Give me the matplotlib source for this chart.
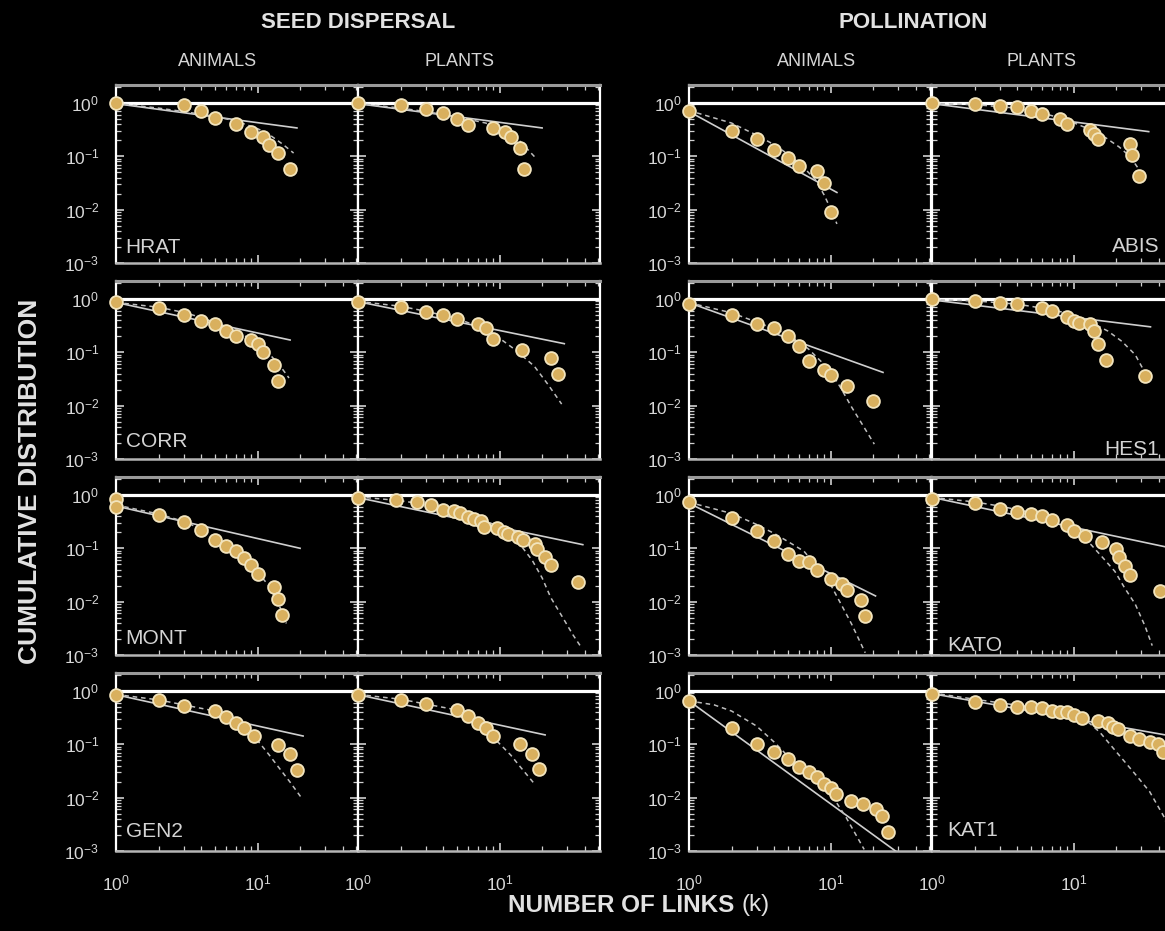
import numpy as np
import matplotlib
matplotlib.use("Agg")
import matplotlib.pyplot as plt
from matplotlib.ticker import LogLocator, NullFormatter

plt.rcParams['font.family'] = ['Liberation Sans', 'DejaVu Sans']
plt.rcParams['mathtext.default'] = 'regular'

# ---- cumulative degree distributions P(k) ----
# seed dispersal networks
hrat_anim_k = [1, 3, 4, 5, 7, 9, 11, 12, 14, 17]
hrat_anim_p = [1.0, 0.92, 0.72, 0.53, 0.40, 0.29, 0.23, 0.166, 0.116, 0.058]
hrat_plant_k = [1, 2, 3, 4, 5, 6, 9, 11, 12, 14, 15]
hrat_plant_p = [1.0, 0.92, 0.77, 0.64, 0.50, 0.39, 0.34, 0.28, 0.23, 0.143, 0.058]

corr_anim_k = [1, 2, 3, 4, 5, 6, 7, 9, 10, 11, 13, 14]
corr_anim_p = [0.86, 0.68, 0.50, 0.39, 0.34, 0.25, 0.20, 0.17, 0.145, 0.10, 0.058, 0.029]
corr_plant_k = [1, 2, 3, 4, 5, 7, 8, 9, 14.5, 23, 26]
corr_plant_p = [0.89, 0.72, 0.57, 0.49, 0.42, 0.34, 0.29, 0.18, 0.112, 0.078, 0.040]

mont_anim_k = [1, 1, 2, 3, 4, 5, 6, 7, 8, 9, 10, 13, 14, 15]
mont_anim_p = [0.85, 0.60, 0.42, 0.31, 0.22, 0.143, 0.111, 0.09, 0.065, 0.048, 0.033, 0.019, 0.011, 0.0056]
mont_plant_k = [1, 1.85, 2.6, 3.3, 4, 4.8, 5.3, 6, 6.6, 7.4, 7.8, 9.6, 10.8, 11.4, 13.6, 14.6,
                17.9, 18.4, 21, 23, 36]
mont_plant_p = [0.89, 0.81, 0.74, 0.65, 0.52, 0.49, 0.45, 0.38, 0.35, 0.33, 0.25, 0.24, 0.20, 0.185,
                0.165, 0.143, 0.12, 0.096, 0.07, 0.048, 0.023]

gen2_anim_k = [1, 2, 3, 5, 6, 7, 8, 9.5, 14, 17, 19]
gen2_anim_p = [0.85, 0.67, 0.53, 0.42, 0.33, 0.25, 0.20, 0.143, 0.097, 0.066, 0.033]
gen2_plant_k = [1, 2, 3, 5, 6, 7, 8, 9, 14, 17, 19]
gen2_plant_p = [0.85, 0.69, 0.56, 0.44, 0.34, 0.25, 0.20, 0.145, 0.10, 0.066, 0.034]

# pollination networks
abis_anim_k = [1, 2, 3, 4, 5, 6, 8, 9, 10]
abis_anim_p = [0.72, 0.30, 0.21, 0.133, 0.092, 0.066, 0.052, 0.031, 0.0089]
abis_plant_k = [1, 2, 3, 4, 5, 6, 8, 9, 13, 14, 15, 25, 26, 29]
abis_plant_p = [1.0, 0.95, 0.89, 0.85, 0.72, 0.62, 0.50, 0.40, 0.31, 0.26, 0.21, 0.167, 0.105, 0.042]

hes1_anim_k = [1, 2, 3, 4, 5, 6, 7, 9, 10, 13, 20]
hes1_anim_p = [0.81, 0.50, 0.345, 0.28, 0.20, 0.129, 0.069, 0.047, 0.038, 0.023, 0.012]
hes1_plant_k = [1, 2, 3, 4, 6, 7, 9, 10, 11, 13, 14, 15, 17, 32]
hes1_plant_p = [1.0, 0.93, 0.83, 0.80, 0.67, 0.60, 0.46, 0.39, 0.36, 0.34, 0.25, 0.145, 0.072, 0.036]

kato_anim_k = [1, 2, 3, 4, 5, 6, 7, 8, 10, 12, 13, 16.5, 17.5]
kato_anim_p = [0.73, 0.37, 0.214, 0.135, 0.078, 0.057, 0.055, 0.039, 0.027, 0.0216, 0.0163, 0.0109, 0.0054]
kato_plant_k = [1, 2, 3, 4, 5, 6, 7, 9, 10, 12, 16, 20, 21, 23, 25, 41]
kato_plant_p = [0.84, 0.70, 0.54, 0.47, 0.435, 0.41, 0.34, 0.276, 0.214, 0.172, 0.129, 0.099, 0.068,
                0.046, 0.031, 0.0158]

kat1_anim_k = [1, 2, 3, 4, 5, 6, 7, 8, 9, 10, 11, 14, 17, 21, 23, 25.5]
kat1_anim_p = [0.635, 0.20, 0.103, 0.072, 0.053, 0.038, 0.030, 0.024, 0.018, 0.0153, 0.0119, 0.0087,
               0.0075, 0.0061, 0.0045, 0.00225]
kat1_plant_k = [1, 2, 3, 4, 5, 6, 7, 8, 9, 10, 11.4, 14.9, 17.5, 19, 20.6, 24.9, 29, 34.5, 39.4, 42.8]
kat1_plant_p = [0.89, 0.62, 0.54, 0.50, 0.49, 0.47, 0.42, 0.41, 0.395, 0.35, 0.31, 0.27, 0.25, 0.21,
                0.19, 0.145, 0.126, 0.109, 0.10, 0.073]

# ---- fitted curves: power law (solid) and truncated power law (dashed) ----
hrat_anim_pl = ([1, 19], [0.97, 0.34])
hrat_anim_tp = ([1, 2, 3, 5, 7, 10, 12, 15, 18], [0.98, 0.80, 0.69, 0.56, 0.46, 0.33, 0.26, 0.17, 0.115])
hrat_plant_pl = ([1, 20], [0.97, 0.34])
hrat_plant_tp = ([1, 2, 3, 5, 8, 11, 14, 17.7], [0.98, 0.80, 0.69, 0.55, 0.42, 0.30, 0.19, 0.098])

corr_anim_pl = ([1, 17], [0.86, 0.17])
corr_anim_tp = ([1, 2, 3, 4, 6, 8, 10, 12, 14, 16.7],
                [0.86, 0.70, 0.56, 0.45, 0.30, 0.21, 0.145, 0.095, 0.062, 0.033])
corr_plant_pl = ([1, 28.7], [0.89, 0.145])
corr_plant_tp = ([1, 2, 3, 5, 8, 10.4, 13, 17.6, 22, 27.5],
                 [0.90, 0.73, 0.59, 0.43, 0.27, 0.17, 0.11, 0.055, 0.025, 0.0107])

mont_anim_pl = ([1, 20], [0.62, 0.10])
mont_anim_tp = ([1, 2, 3, 4, 5, 6, 8, 10, 12, 14, 16],
                [0.65, 0.44, 0.32, 0.23, 0.16, 0.12, 0.066, 0.036, 0.02, 0.0095, 0.0039])
mont_plant_pl = ([1, 38.8], [0.89, 0.117])
mont_plant_tp = ([1, 2, 3, 5, 7, 10, 13.6, 17, 20, 23, 28.7, 33, 37.5],
                 [0.92, 0.78, 0.66, 0.50, 0.38, 0.25, 0.13, 0.06, 0.028, 0.012, 0.0045, 0.0024, 0.00144])

gen2_anim_pl = ([1, 21], [0.85, 0.143])
gen2_anim_tp = ([1, 2, 3, 5, 6, 7, 8, 9.6, 12, 14, 17, 20.3],
                [0.86, 0.68, 0.55, 0.42, 0.33, 0.25, 0.20, 0.135, 0.065, 0.038, 0.0195, 0.0102])
gen2_plant_pl = ([1, 21], [0.85, 0.15])
gen2_plant_tp = ([1, 2, 3, 5, 6, 7, 8, 9.3, 12, 14, 17.4],
                 [0.86, 0.70, 0.57, 0.44, 0.34, 0.26, 0.19, 0.125, 0.063, 0.038, 0.019])

abis_anim_pl = ([1, 11.1], [0.69, 0.021])
abis_anim_tp = ([1, 2, 3, 4, 5, 6, 7.8, 9, 10, 11.1],
                [0.72, 0.42, 0.25, 0.165, 0.11, 0.075, 0.037, 0.019, 0.0105, 0.0054])
abis_plant_pl = ([1, 34], [0.97, 0.29])
abis_plant_tp = ([1, 2, 4, 6, 9, 13, 17, 21, 25, 29],
                 [0.98, 0.93, 0.80, 0.65, 0.48, 0.32, 0.22, 0.15, 0.10, 0.057])

hes1_anim_pl = ([1, 23.5], [0.85, 0.042])
hes1_anim_tp = ([1, 2, 3, 5, 7, 10, 12, 14.1, 17, 20.4],
                [0.85, 0.55, 0.37, 0.22, 0.115, 0.045, 0.02, 0.0094, 0.0042, 0.0019])
hes1_plant_pl = ([1, 35], [0.96, 0.30])
hes1_plant_tp = ([1, 2, 4, 7, 9, 12, 17.5, 22, 27.3, 32.6],
                 [0.97, 0.92, 0.80, 0.63, 0.54, 0.42, 0.25, 0.16, 0.09, 0.038])

kato_anim_pl = ([1, 20.8], [0.70, 0.0128])
kato_anim_tp = ([1, 2, 3, 4, 5, 6.5, 8, 10, 12, 14.1, 17.6],
                [0.73, 0.45, 0.28, 0.19, 0.134, 0.088, 0.045, 0.021, 0.0085, 0.0038, 0.0011])
kato_plant_pl = ([1, 50], [0.90, 0.10])
kato_plant_tp = ([1, 2, 3, 5, 7, 9, 11, 13.3, 16, 19.6, 23, 27.3, 32, 36],
                 [0.90, 0.74, 0.62, 0.47, 0.35, 0.24, 0.17, 0.117, 0.068, 0.037, 0.018, 0.009, 0.0035, 0.0015])

kat1_anim_pl = ([1, 28.8], [0.65, 0.001])
kat1_anim_tp = ([1, 1.5, 2, 3, 4, 5, 6, 8, 10, 12.8, 17.3],
                [0.65, 0.55, 0.42, 0.22, 0.11, 0.06, 0.04, 0.022, 0.012, 0.0044, 0.00107])
kat1_plant_pl = ([1, 50], [0.89, 0.142])
kat1_plant_tp = ([1, 2, 3, 5, 8, 12.3, 15.3, 20, 26.3, 34.5, 44, 50],
                 [0.92, 0.70, 0.60, 0.50, 0.41, 0.28, 0.17, 0.073, 0.031, 0.013, 0.0042, 0.0015])

# row, col, data, fits, network label (or None), label x, label y, alignment
panels = [
    (0, 0, hrat_anim_k, hrat_anim_p, hrat_anim_pl, hrat_anim_tp, "HRAT", 0.04, 0.058, "left"),
    (0, 1, hrat_plant_k, hrat_plant_p, hrat_plant_pl, hrat_plant_tp, None, 0, 0, "left"),
    (1, 0, corr_anim_k, corr_anim_p, corr_anim_pl, corr_anim_tp, "CORR", 0.04, 0.066, "left"),
    (1, 1, corr_plant_k, corr_plant_p, corr_plant_pl, corr_plant_tp, None, 0, 0, "left"),
    (2, 0, mont_anim_k, mont_anim_p, mont_anim_pl, mont_anim_tp, "MONT", 0.04, 0.062, "left"),
    (2, 1, mont_plant_k, mont_plant_p, mont_plant_pl, mont_plant_tp, None, 0, 0, "left"),
    (3, 0, gen2_anim_k, gen2_anim_p, gen2_anim_pl, gen2_anim_tp, "GEN2", 0.04, 0.077, "left"),
    (3, 1, gen2_plant_k, gen2_plant_p, gen2_plant_pl, gen2_plant_tp, None, 0, 0, "left"),
    (0, 2, abis_anim_k, abis_anim_p, abis_anim_pl, abis_anim_tp, None, 0, 0, "left"),
    (0, 3, abis_plant_k, abis_plant_p, abis_plant_pl, abis_plant_tp, "ABIS", 0.94, 0.06, "right"),
    (1, 2, hes1_anim_k, hes1_anim_p, hes1_anim_pl, hes1_anim_tp, None, 0, 0, "left"),
    (1, 3, hes1_plant_k, hes1_plant_p, hes1_plant_pl, hes1_plant_tp, "HES1", 0.94, 0.022, "right"),
    (2, 2, kato_anim_k, kato_anim_p, kato_anim_pl, kato_anim_tp, None, 0, 0, "left"),
    (2, 3, kato_plant_k, kato_plant_p, kato_plant_pl, kato_plant_tp, "KATO", 0.065, 0.02, "left"),
    (3, 2, kat1_anim_k, kat1_anim_p, kat1_anim_pl, kat1_anim_tp, None, 0, 0, "left"),
    (3, 3, kat1_plant_k, kat1_plant_p, kat1_plant_pl, kat1_plant_tp, "KAT1", 0.065, 0.084, "left"),
]

W, H = 1165, 931
col_left = [116, 358, 689, 932]
row_top = [85, 281, 477, 673]
pw, ph = 242, 178
xmax = 10 ** (pw / 141.5)
ymax = 10 ** (ph / 53.35 - 3)

txt = '#e2e2e2'
dot_face = '#d9b05e'
dot_edge = '#f2e4bd'

fig = plt.figure(figsize=(W / 100, H / 100), dpi=100, facecolor='black')

for row, col, k, p, pl, tp, name, lx, ly, ha in panels:
    x0 = col_left[col]
    y0 = row_top[row]
    ax = fig.add_axes([x0 / W, 1 - (y0 + ph) / H, pw / W, ph / H])
    ax.set_facecolor('black')
    ax.set_xscale('log')
    ax.set_yscale('log')
    ax.set_xlim(1, xmax)
    ax.set_ylim(1e-3, ymax)

    ax.axhline(1, color='white', lw=2.3, zorder=2)
    ax.plot(pl[0], pl[1], color='#cfcfcf', lw=1.2, zorder=3)
    ax.plot(tp[0], tp[1], color='#bdbdbd', lw=1.1, ls=(0, (3, 2.5)), zorder=3)
    ax.scatter(k, p, s=85, c=dot_face, edgecolors=dot_edge, linewidths=1.3,
               zorder=4, clip_on=False)

    for axis in (ax.xaxis, ax.yaxis):
        axis.set_major_locator(LogLocator(base=10, numticks=10))
        axis.set_minor_locator(LogLocator(base=10, subs=np.arange(2, 10), numticks=20))
        axis.set_minor_formatter(NullFormatter())

    ax.tick_params(which='both', direction='in', top=True, right=True,
                   color='#d0d0d0', labelcolor='#d8d8d8', labelsize=12.5)
    ax.tick_params(which='major', length=6, width=1.2)
    ax.tick_params(which='minor', length=3.5, width=0.9)
    ax.tick_params(axis='x', pad=16)
    ax.tick_params(axis='y', pad=12 if col == 0 else 5)
    if row != 3:
        ax.tick_params(labelbottom=False)
    if col not in (0, 2):
        ax.tick_params(labelleft=False)

    ax.spines['left'].set_color('white')
    ax.spines['right'].set_color('white')
    ax.spines['left'].set_linewidth(1.6)
    ax.spines['right'].set_linewidth(1.6)
    ax.spines['top'].set_color('#9a9a9a')
    ax.spines['top'].set_linewidth(2.2)
    ax.spines['bottom'].set_color('#b5b5b5')
    ax.spines['bottom'].set_linewidth(1.8)

    if name:
        ax.text(lx, ly, name, transform=ax.transAxes, ha=ha, va='baseline',
                fontsize=15, color='#d4d4d4')

# headings
fig.text(358 / W, 1 - 22 / H, "SEED DISPERSAL", ha='center', va='center',
         fontsize=16, fontweight='bold', color=txt)
fig.text(913 / W, 1 - 22 / H, "POLLINATION", ha='center', va='center',
         fontsize=16, fontweight='bold', color=txt)
for xc, s in [(218, "ANIMALS"), (459, "PLANTS"), (817, "ANIMALS"), (1042, "PLANTS")]:
    fig.text(xc / W, 1 - 61 / H, s, ha='center', va='center', fontsize=13, color='#d6d6d6')

fig.text(30 / W, 1 - 481 / H, "CUMULATIVE DISTRIBUTION", rotation=90, ha='center',
         va='center', fontsize=19, fontweight='bold', color=txt)

# axis title: bold words followed by a regular "(k)"
lab = fig.text(508 / W, 1 - 905 / H, "NUMBER OF LINKS ", ha='left', va='center',
               fontsize=17.5, fontweight='bold', color=txt)
renderer = fig.canvas.get_renderer()
bb = lab.get_window_extent(renderer=renderer)
fig.text(bb.x1 / W, 1 - 905 / H, "(k)", ha='left', va='center', fontsize=17.5, color=txt)

fig.savefig("out.png", dpi=100, facecolor='black')
